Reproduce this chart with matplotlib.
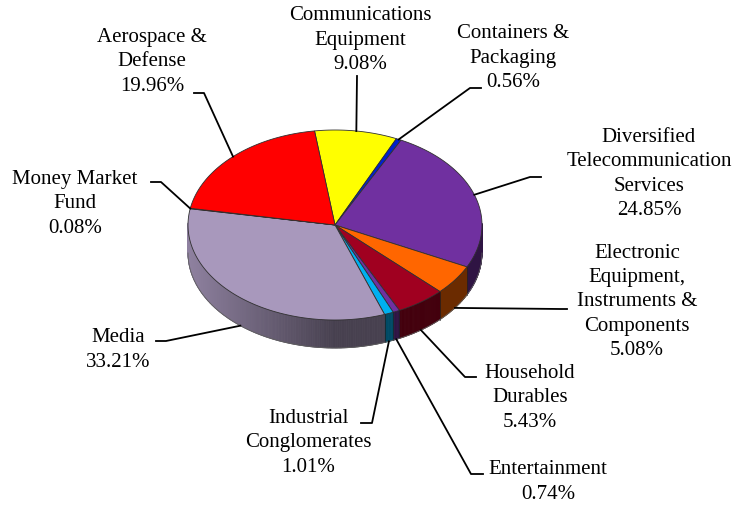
import numpy as np
import matplotlib
matplotlib.use("Agg")
import matplotlib.pyplot as plt
from matplotlib.patches import Polygon
from matplotlib.colors import to_rgb

# data, clockwise from the top
sectors = ['Communications\nEquipment', 'Containers &\nPackaging',
           'Diversified\nTelecommunication\nServices',
           'Electronic\nEquipment,\nInstruments &\nComponents',
           'Household\nDurables', 'Entertainment', 'Industrial\nConglomerates',
           'Media', 'Money Market\nFund', 'Aerospace &\nDefense']
weights = [9.08, 0.56, 24.85, 5.08, 5.43, 0.74, 1.01, 33.21, 0.08, 19.96]
colors = ['#FFFF00', '#0020D0', '#7030A0', '#FF6600', '#A00020',
          '#7030A0', '#00B0F0', '#A898BC', '#C0C0C0', '#FF0000']

# label block centres and leader starts (pixels)
label_pos = [(360, 40), (513, 58), (649, 174), (637, 302), (530, 398),
             (548, 482), (308, 443), (118, 350), (75, 204), (152, 62)]
leader_start = [(357, 76), (481, 88), (541, 177), (567, 309), (476, 377),
                (483, 474), (361, 423), (156, 341), (151, 182), (194, 93)]
leader_elbow = [(357, 76), (470, 88), (530, 177), (560, 309), (465, 377),
                (471, 474), (372, 423), (166, 341), (161, 182), (204, 93)]

cx, cy, rx, ry, depth = 335, 225, 147, 95, 28
start = 98.0

plt.rcParams['font.family'] = ['Liberation Serif', 'DejaVu Serif']

fig = plt.figure(figsize=(7.49, 5.07), dpi=100)
ax = fig.add_axes([0, 0, 1, 1])
ax.set_xlim(0, 749)
ax.set_ylim(507, 0)
ax.axis('off')


def pt(theta, dz=0):
    t = np.radians(theta)
    return cx + rx * np.cos(t), cy - ry * np.sin(t) + dz


angles = [start]
for w in weights:
    angles.append(angles[-1] - w / 100 * 360)

# side wall (front half only)
for i, w in enumerate(weights):
    a0, a1 = angles[i], angles[i + 1]
    base = np.array(to_rgb(colors[i]))
    ts = np.linspace(a0, a1, max(3, int(abs(a0 - a1) * 2)))
    for t0, t1 in zip(ts[:-1], ts[1:]):
        tm = (t0 + t1) / 2
        if np.sin(np.radians(tm)) > 0.02:
            continue
        c = np.cos(np.radians(tm))
        f = 0.42 + 0.43 * max(0, -c)
        x0, y0 = pt(t0)
        x1, y1 = pt(t1)
        quad = [(x0, y0), (x1, y1), (x1, y1 + depth), (x0, y0 + depth)]
        ax.add_patch(Polygon(quad, closed=True, facecolor=base * f,
                             edgecolor=base * f, lw=0.6))
    # divider on the side
    for a in (a0, a1):
        if np.sin(np.radians(a)) < 0:
            x, y = pt(a)
            ax.plot([x, x], [y, y + depth], color='#202020', lw=0.5, alpha=0.6)

# bottom outline
tt = np.linspace(180, 360, 200)
bx = [pt(t, depth)[0] for t in tt]
by = [pt(t, depth)[1] for t in tt]
ax.plot(bx, by, color='#606060', lw=0.6)

# top faces
for i, w in enumerate(weights):
    a0, a1 = angles[i], angles[i + 1]
    ts = np.linspace(a0, a1, max(2, int(abs(a0 - a1) * 2)))
    poly = [(cx, cy)] + [pt(t) for t in ts]
    ax.add_patch(Polygon(poly, closed=True, facecolor=colors[i],
                         edgecolor='#303030', lw=0.6))

# labels and leaders
for i, w in enumerate(weights):
    mid = (angles[i] + angles[i + 1]) / 2
    if np.sin(np.radians(mid)) < 0:
        anchor = pt(mid, depth)
    else:
        anchor = pt(mid)
    xs = [leader_start[i][0], leader_elbow[i][0], anchor[0]]
    ys = [leader_start[i][1], leader_elbow[i][1], anchor[1]]
    ax.plot(xs, ys, color='black', lw=1.3)
    lx, ly = label_pos[i]
    ax.text(lx, ly, f'{sectors[i]}\n{w:.2f}%', ha='center', va='center',
            fontsize=15, linespacing=1.38, color='black')

fig.savefig('out.png', dpi=100)
